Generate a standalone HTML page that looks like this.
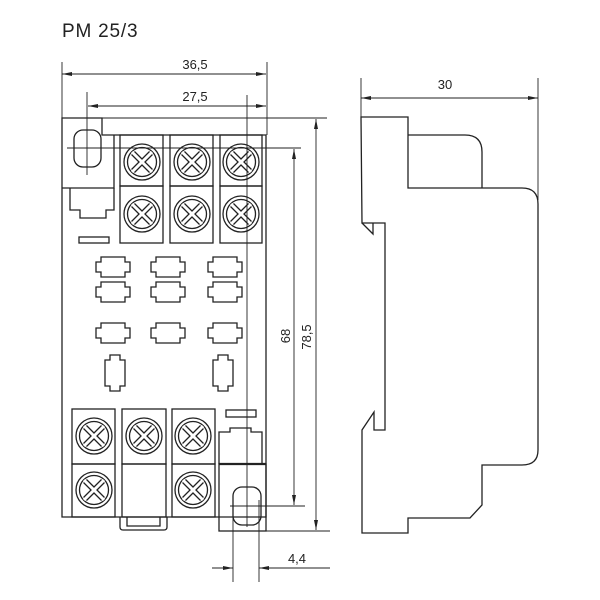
<!DOCTYPE html>
<html><head><meta charset="utf-8"><style>
html,body{margin:0;padding:0;background:#fff;}
svg{display:block}
text{font-family:"Liberation Sans",sans-serif;fill:#222}
</style></head><body>
<svg width="600" height="600" viewBox="0 0 600 600" xmlns="http://www.w3.org/2000/svg">
<defs>
<g id="scr">
<circle r="18" fill="#fff" stroke="#222" stroke-width="1.3"/>
<circle r="14.5" fill="#fff" stroke="#222" stroke-width="1.3"/>
<g stroke="#222" stroke-width="5.5" stroke-linecap="butt"><line x1="-9" y1="-9" x2="9" y2="9"/><line x1="9" y1="-9" x2="-9" y2="9"/></g>
<g stroke="#fff" stroke-width="3"><line x1="-10" y1="-10" x2="10" y2="10"/><line x1="10" y1="-10" x2="-10" y2="10"/></g>
</g>
<path id="padh" d="M-17,-5 h5 v-5 h24 v5 h5 v10 h-5 v5 h-24 v-5 h-5 z" fill="#fff" stroke="#222" stroke-width="1.3"/>
<path id="padv" d="M-5,-18 h10 v5 h5 v26 h-5 v5 h-10 v-5 h-5 v-26 h5 z" fill="#fff" stroke="#222" stroke-width="1.3"/>
<marker id="ar" viewBox="0 0 10 4" refX="10" refY="2" markerWidth="10" markerHeight="4" markerUnits="userSpaceOnUse" orient="auto"><path d="M0,0 L10,2 L0,4 z" fill="#222"/></marker>
</defs>
<text x="62" y="37" font-size="19" letter-spacing="0.8">PM 25/3</text>

<g fill="none" stroke="#222" stroke-width="1.3">
<!-- main body -->
<path d="M62,118 H102 V135 H266 V517 H62 Z"/>
<path d="M62,188 H114 V135"/>
<path d="M70,188 V210 H80 V218 H106 V210 H114 V188"/>
<rect x="74" y="130" width="27" height="37" rx="9"/>
<rect x="79" y="237" width="30" height="6"/>
<!-- top terminals -->
<rect x="120" y="135" width="43" height="51"/><rect x="120" y="186" width="43" height="57"/>
<rect x="170" y="135" width="43" height="51"/><rect x="170" y="186" width="43" height="57"/>
<rect x="220" y="135" width="42" height="51"/><rect x="220" y="186" width="42" height="57"/>
<!-- bottom terminals -->
<rect x="72" y="409" width="43" height="55"/><rect x="72" y="464" width="43" height="53"/>
<rect x="122" y="409" width="44" height="55"/><rect x="122" y="464" width="44" height="53"/>
<rect x="172" y="409" width="43" height="55"/><rect x="172" y="464" width="43" height="53"/>
<path d="M120,517 V527 Q120,530 123,530 H164 Q167,530 167,527 V517"/>
<path d="M127,517 V526 H160 V517"/>
<!-- right lower block -->
<rect x="219" y="464" width="47" height="67"/>
<path d="M219,464 V432 H230 V428 H251 V432 H262 V464"/>
<rect x="226" y="410" width="30" height="7"/>
<rect x="233" y="487" width="28" height="38" rx="9"/>
</g>
<line x1="219" y1="464" x2="266" y2="464" stroke="#222" stroke-width="2.2"/>

<use href="#scr" x="142" y="162"/><use href="#scr" x="192" y="162"/><use href="#scr" x="241" y="162"/>
<use href="#scr" x="142" y="214"/><use href="#scr" x="192" y="214"/><use href="#scr" x="241" y="214"/>
<use href="#scr" x="94" y="436"/><use href="#scr" x="144" y="436"/><use href="#scr" x="193" y="436"/>
<use href="#scr" x="94" y="490"/><use href="#scr" x="193" y="490"/>

<use href="#padh" x="113" y="267"/><use href="#padh" x="168" y="267"/><use href="#padh" x="225" y="267"/>
<use href="#padh" x="113" y="292"/><use href="#padh" x="168" y="292"/><use href="#padh" x="225" y="292"/>
<use href="#padh" x="113" y="333"/><use href="#padh" x="168" y="333"/><use href="#padh" x="225" y="333"/>
<use href="#padv" x="115" y="373"/><use href="#padv" x="223" y="373"/>

<!-- dimension lines -->
<g stroke="#222" stroke-width="0.9" fill="none">
<line x1="62" y1="62" x2="62" y2="118"/>
<line x1="267" y1="62" x2="267" y2="135"/>
<line x1="64" y1="74" x2="266" y2="74" marker-end="url(#ar)"/>
<line x1="264" y1="74" x2="62" y2="74" marker-end="url(#ar)"/>
<line x1="87" y1="92" x2="87" y2="175"/>
<line x1="247" y1="95" x2="247" y2="527"/>
<line x1="100" y1="106" x2="266" y2="106" marker-end="url(#ar)"/>
<line x1="250" y1="106" x2="88" y2="106" marker-end="url(#ar)"/>
<line x1="102" y1="118" x2="327" y2="118"/>
<line x1="67" y1="148" x2="301" y2="148"/>
<line x1="294" y1="300" x2="294" y2="149" marker-end="url(#ar)"/>
<line x1="294" y1="300" x2="294" y2="505" marker-end="url(#ar)"/>
<line x1="316" y1="300" x2="316" y2="119" marker-end="url(#ar)"/>
<line x1="316" y1="300" x2="316" y2="530" marker-end="url(#ar)"/>
<line x1="230" y1="506" x2="305" y2="506"/>
<line x1="266" y1="531" x2="330" y2="531"/>
<line x1="233" y1="500" x2="233" y2="582"/>
<line x1="259" y1="500" x2="259" y2="582"/>
<line x1="212" y1="568" x2="233" y2="568" marker-end="url(#ar)"/>
<line x1="330" y1="568" x2="259" y2="568" marker-end="url(#ar)"/>
<!-- side view dims -->
<line x1="361" y1="78" x2="361" y2="117"/>
<line x1="538" y1="78" x2="538" y2="200"/>
<line x1="380" y1="98" x2="538" y2="98" marker-end="url(#ar)"/>
<line x1="520" y1="98" x2="361" y2="98" marker-end="url(#ar)"/>
</g>
<text x="195" y="69" font-size="13" text-anchor="middle">36,5</text>
<text x="195" y="101" font-size="13" text-anchor="middle">27,5</text>
<text x="445" y="89" font-size="13" text-anchor="middle">30</text>
<text x="297" y="563" font-size="13" text-anchor="middle">4,4</text>
<text transform="translate(290,336) rotate(-90)" font-size="13" text-anchor="middle">68</text>
<text transform="translate(311,337) rotate(-90)" font-size="13" text-anchor="middle">78,5</text>

<!-- side profile -->
<g fill="none" stroke="#222" stroke-width="1.3">
<path d="M361,117 H408 V188 H522 Q538,188 538,204 V450 Q538,465 522,465 H482 V505 L470,518 H408 V533 H362 V430 L374,412 V430 H385 V223 H362 Z"/>
<path d="M362,223 L373,234 V223"/>
<path d="M408,135 H465 Q482,135 482,152 V188"/>
</g>
</svg>
</body></html>
